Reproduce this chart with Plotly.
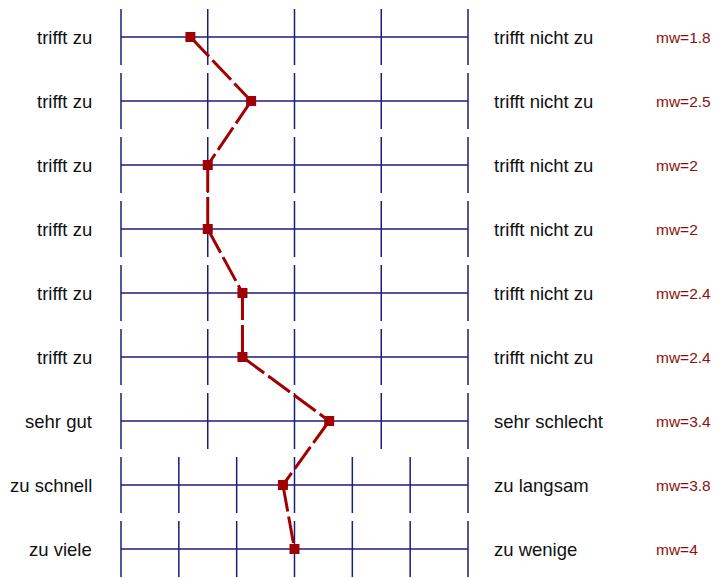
import plotly.graph_objects as go

# Semantic differential: one row per item
left_labels = ["trifft zu", "trifft zu", "trifft zu", "trifft zu", "trifft zu",
               "trifft zu", "sehr gut", "zu schnell", "zu viele"]
right_labels = ["trifft nicht zu", "trifft nicht zu", "trifft nicht zu", "trifft nicht zu",
                "trifft nicht zu", "trifft nicht zu", "sehr schlecht", "zu langsam", "zu wenige"]
scale_points = [5, 5, 5, 5, 5, 5, 5, 7, 7]
means = [1.8, 2.5, 2.0, 2.0, 2.4, 2.4, 3.4, 3.8, 4.0]

GRID = "#1c1c7a"
RED = "#a00000"
HALF = 0.4375          # half height of the tick marks, in row units
PAD = 7 / 347          # small x padding so the outer ticks are not clipped

rows = list(range(len(means)))


def pos(value, n):
    """Position of a scale value on a common 0..1 axis."""
    return (value - 1) / (n - 1)


# Horizontal baseline and vertical ticks of every row
gx, gy = [], []
for r, n in zip(rows, scale_points):
    gx += [0, 1, None]
    gy += [r, r, None]
    for k in range(1, n + 1):
        p = pos(k, n)
        gx += [p, p, None]
        gy += [r - HALF, r + HALF, None]

fig = go.Figure()
fig.add_trace(go.Scatter(x=gx, y=gy, mode="lines",
                         line=dict(color=GRID, width=1.5),
                         hoverinfo="skip", showlegend=False))

# Profile line of the means, each segment dashed from its own start point
px = [pos(m, n) for m, n in zip(means, scale_points)]
for i in range(len(px) - 1):
    fig.add_trace(go.Scatter(x=px[i:i + 2], y=rows[i:i + 2], mode="lines",
                             line=dict(color=RED, width=3, dash="27px,5px"),
                             hoverinfo="skip", showlegend=False))
fig.add_trace(go.Scatter(x=px, y=rows, mode="markers",
                         marker=dict(symbol="square", size=10, color=RED),
                         showlegend=False))

annotations = []


def to_paper(x):
    return (x + PAD) / (1 + 2 * PAD)


for r in rows:
    annotations.append(dict(x=to_paper(-27 / 347), y=r, xref="paper", yref="y",
                            text=left_labels[r], xanchor="right", yanchor="middle",
                            showarrow=False, font=dict(size=18.5, color="#111111")))
    annotations.append(dict(x=to_paper(1.069), y=r, xref="paper", yref="y",
                            text=right_labels[r], xanchor="left", yanchor="middle",
                            showarrow=False, font=dict(size=18.5, color="#111111")))
    annotations.append(dict(x=to_paper(1.537), y=r, xref="paper", yref="y",
                            text=f"mw={means[r]:g}", xanchor="left", yanchor="middle",
                            showarrow=False, font=dict(size=15.5, color="#8b1010")))

fig.update_layout(
    width=728, height=578,
    margin=dict(l=114, r=253, t=0, b=0),
    paper_bgcolor="white", plot_bgcolor="white",
    font=dict(family="Liberation Sans, Arial, sans-serif"),
    xaxis=dict(range=[-PAD, 1 + PAD], visible=False, fixedrange=True),
    yaxis=dict(range=[(578 - 37) / 64, -37 / 64], visible=False, fixedrange=True),
    annotations=annotations,
)

fig.write_html("out.html")
